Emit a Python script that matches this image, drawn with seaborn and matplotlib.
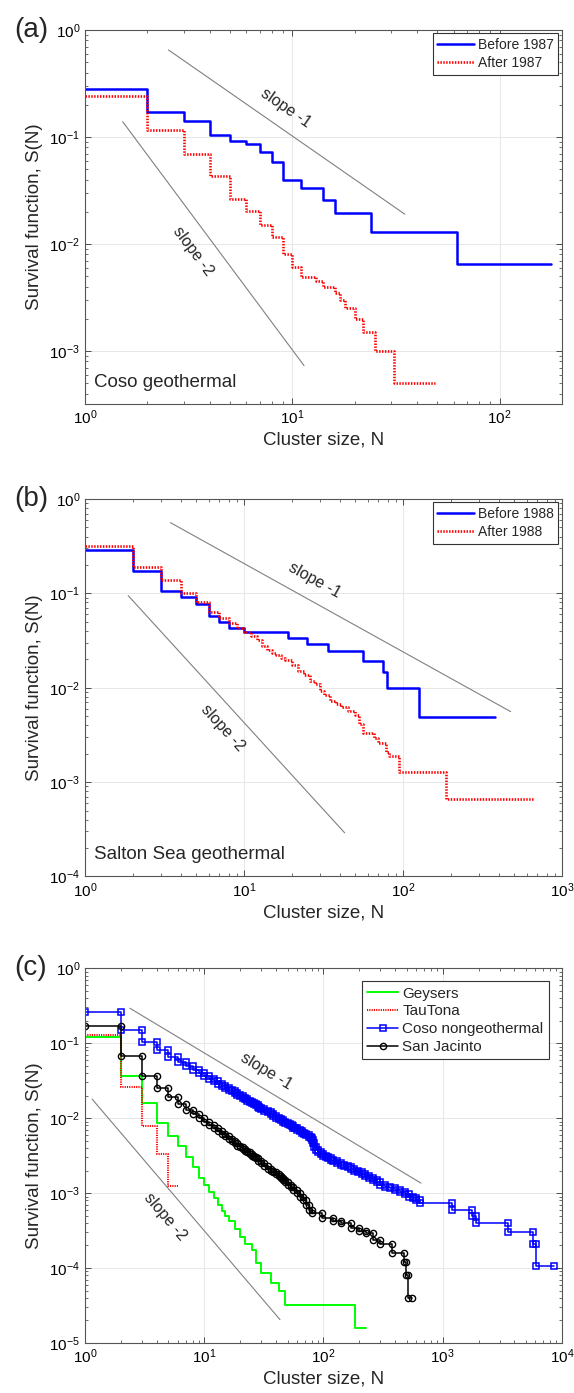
import numpy as np
import seaborn as sns
import matplotlib.pyplot as plt
from matplotlib.ticker import LogLocator, NullFormatter

sns.set_theme(style="ticks")
plt.rcParams["font.family"] = ["Liberation Sans", "DejaVu Sans"]
plt.rcParams["mathtext.fontset"] = "custom"
plt.rcParams["mathtext.rm"] = "Liberation Sans"
plt.rcParams["mathtext.it"] = "Liberation Sans:italic"
plt.rcParams["mathtext.bf"] = "Liberation Sans:bold"

# ---- panel (a): Coso geothermal ----
a_before_n = [1, 2, 3, 4, 5, 6, 7, 8, 9, 11, 14, 16, 24, 62, 178]
a_before_s = [0.279, 0.170, 0.142, 0.104, 0.092, 0.0855, 0.072, 0.058, 0.0397,
              0.0332, 0.0258, 0.0196, 0.0129, 0.00655, 0.00655]
a_after_n = [1, 2, 3, 4, 5, 6, 7, 8, 9, 10, 11, 13, 14, 16, 17, 18, 20, 22, 25, 31, 49]
a_after_s = [0.243, 0.116, 0.069, 0.0435, 0.0265, 0.0205, 0.0152, 0.0116, 0.0081,
             0.0061, 0.0049, 0.00454, 0.0040, 0.00346, 0.0030, 0.0025, 0.0020,
             0.0015, 0.0010, 0.0005, 0.0005]
a_slope1 = ([2.53, 34.9], [0.65, 0.019])
a_slope2 = ([1.52, 11.4], [0.139, 0.00073])

# ---- panel (b): Salton Sea geothermal ----
b_before_n = [1, 2, 3, 4, 5, 6, 7, 8, 10, 19, 25, 34, 56, 75, 79, 127, 377]
b_before_s = [0.288, 0.173, 0.106, 0.092, 0.0766, 0.0576, 0.0494, 0.0433, 0.0387,
              0.034, 0.029, 0.0245, 0.0194, 0.0148, 0.0099, 0.00494, 0.00494]
b_after_n = [1, 2, 3, 4, 5, 6, 7, 8, 9, 10, 11, 12, 13, 14, 15, 16, 17, 18,
             20, 22, 24, 26, 28, 30, 32, 35, 38, 41, 45, 50, 53, 56,
             66, 70, 78, 82, 95, 187, 670]
b_after_s = [0.318, 0.192, 0.139, 0.100, 0.080, 0.064, 0.0545, 0.049, 0.0427, 0.039,
             0.035, 0.032, 0.028, 0.0251, 0.0235, 0.022, 0.0205, 0.0197,
             0.0175, 0.0152, 0.0135, 0.0118, 0.0110, 0.0092, 0.0083,
             0.0072, 0.0067, 0.0062, 0.0057, 0.0051, 0.0041, 0.0033,
             0.0029, 0.0026, 0.0021, 0.0019, 0.00129, 0.00066, 0.00066]
b_slope1 = ([3.45, 476], [0.561, 0.00558])
b_slope2 = ([1.87, 43], [0.0946, 0.00029])

# ---- panel (c): other regions ----
c_gey_n = [1, 2, 3, 4, 5, 6, 7, 8, 9, 10, 11, 12, 13, 14, 15, 16, 18, 20, 22, 25,
           27, 30, 36, 42, 48, 184, 227]
c_gey_s = [0.120, 0.036, 0.0158, 0.0087, 0.0058, 0.0042, 0.0030, 0.0022, 0.0016,
           0.0013, 0.00105, 0.00085, 0.0007, 0.00058, 0.0005, 0.00042, 0.00033,
           0.00026, 0.00021, 0.000175, 0.000116, 0.000086, 0.000063, 0.000049,
           0.0000324, 0.0000158, 0.0000158]
c_tau_n = [1, 2, 3, 4, 5, 6]
c_tau_s = [0.129, 0.026, 0.0079, 0.0033, 0.00125, 0.00125]
c_coso_n = [1, 2, 3, 4, 5, 6, 7, 8, 9, 10, 11, 12, 13, 14, 15, 16, 17, 18, 19, 20,
            21, 22, 23, 24, 25, 26, 27, 28, 29, 30, 32, 34, 36, 38, 40, 42, 44, 46,
            48, 50, 52, 54, 56, 58, 60, 63, 66, 69, 72, 75, 78, 80, 82, 84, 86, 90,
            95, 100, 105, 110, 115, 120, 130, 140, 150, 160, 170, 180, 195, 210,
            225, 240, 260, 280, 300, 330, 360, 400, 440, 480, 520, 560, 600, 650,
            1200, 1750, 1900, 3500, 5700, 6100, 8650]
c_coso_s = [0.264, 0.150, 0.105, 0.0814, 0.066, 0.056, 0.049, 0.044, 0.040, 0.036,
            0.033, 0.031, 0.029, 0.027, 0.0255, 0.024, 0.0228, 0.0216, 0.0206, 0.0196,
            0.0188, 0.0180, 0.0172, 0.0165, 0.0159, 0.0153, 0.0148, 0.0143, 0.0138,
            0.0134, 0.0126, 0.0119, 0.0113, 0.0107, 0.0102, 0.0098, 0.0094, 0.0090,
            0.0087, 0.0083, 0.0080, 0.0078, 0.0075, 0.0073, 0.0070, 0.0067, 0.0064,
            0.0061, 0.0059, 0.0056, 0.0054, 0.0051, 0.0046, 0.0041, 0.0038, 0.0035,
            0.0033, 0.0031, 0.0030, 0.0029, 0.0028, 0.0027, 0.0025, 0.0024, 0.0023,
            0.0022, 0.0021, 0.0020, 0.0019, 0.0018, 0.0017, 0.0016, 0.0015, 0.0014,
            0.0013, 0.0012, 0.00116, 0.00110, 0.00105, 0.00098, 0.00090, 0.00085,
            0.00080, 0.00074, 0.0006, 0.0005, 0.0004, 0.0003, 0.00021, 0.000105,
            0.000105]
c_sj_n = [1, 2, 3, 4, 5, 6, 7, 8, 9, 10, 11, 12, 13, 14, 15, 16, 17, 18, 19, 20,
          21, 22, 23, 24, 25, 26, 27, 28, 30, 32, 34, 36, 38, 40, 42, 44, 46, 48,
          50, 53, 56, 60, 64, 68, 72, 76, 80, 97, 120, 139, 171, 200, 227, 262,
          300, 373, 478, 495, 510, 550]
c_sj_s = [0.170, 0.0677, 0.0366, 0.0251, 0.0190, 0.0155, 0.0130, 0.0114, 0.0100,
          0.0090, 0.0081, 0.0074, 0.0068, 0.0062, 0.0057, 0.0053, 0.0049, 0.0046,
          0.0043, 0.0041, 0.0039, 0.0037, 0.0035, 0.0033, 0.0031, 0.0030, 0.0029,
          0.0027, 0.0025, 0.0023, 0.0021, 0.0020, 0.0019, 0.0018, 0.0017, 0.0016,
          0.0015, 0.0014, 0.0013, 0.0012, 0.0011, 0.0010, 0.0009, 0.00082, 0.00070,
          0.00060, 0.00055, 0.00047, 0.00043, 0.0004, 0.00034, 0.00031, 0.00029,
          0.00024, 0.00021, 0.000158, 0.000119, 0.000081, 0.00004, 0.00004]
c_slope1 = ([2.38, 657], [0.293, 0.00136])
c_slope2 = ([1.15, 43.2], [0.0179, 0.0000205])

BLUE, RED, GREEN, GRAY = "#0000ff", "#ff0000", "#00ff00", "#808080"
DOTS = (0, (0.55, 0.55))


def stairs(n, s):
    # corner points of a survival staircase
    xs, ys = [], []
    for i in range(len(n) - 1):
        xs += [n[i], n[i + 1]]
        ys += [s[i], s[i]]
    return xs, ys


def style_axes(ax, xlim, ylim):
    ax.set_xscale("log")
    ax.set_yscale("log")
    ax.set_xlim(*xlim)
    ax.set_ylim(*ylim)
    for axis in (ax.xaxis, ax.yaxis):
        axis.set_major_locator(LogLocator(base=10, numticks=12))
        axis.set_minor_locator(LogLocator(base=10, subs=np.arange(2, 10), numticks=12))
        axis.set_minor_formatter(NullFormatter())
    ax.tick_params(which="both", direction="in", top=True, right=True,
                   colors="#333333", labelcolor="black", labelsize=11)
    ax.tick_params(which="major", length=4, width=0.6)
    ax.tick_params(which="minor", length=2, width=0.5)
    ax.grid(True, which="major", color="#e3e3e3", linewidth=0.6)
    for sp in ax.spines.values():
        sp.set_color("#555555")
        sp.set_linewidth(0.8)
    ax.set_xlabel("Cluster size, N", fontsize=13.5, labelpad=3)
    ax.set_ylabel("Survival function, S(N)", fontsize=13.5)
    ax.yaxis.set_label_coords(-0.088, 0.5)


def slope_line(ax, pts):
    sns.lineplot(x=pts[0], y=pts[1], ax=ax, color=GRAY, linewidth=0.8,
                 estimator=None, sort=False, legend=False)


def step(ax, n, s, **kw):
    xs, ys = stairs(n, s)
    sns.lineplot(x=xs, y=ys, ax=ax, estimator=None, sort=False, **kw)


def frame_legend(ax, pad, hl, size):
    leg = ax.legend(loc="upper right", fontsize=size, frameon=True, fancybox=False,
                    edgecolor="#333333", framealpha=1, handlelength=hl,
                    borderaxespad=pad, handletextpad=0.3, borderpad=0.35,
                    labelspacing=0.25)
    leg.get_frame().set_linewidth(0.8)


fig = plt.figure(figsize=(5.74, 13.93), dpi=100)
ax_a = fig.add_axes([0.148, 0.710, 0.831, 0.2685])
ax_b = fig.add_axes([0.148, 0.3708, 0.831, 0.271])
ax_c = fig.add_axes([0.148, 0.0359, 0.831, 0.269])

# (a)
style_axes(ax_a, (1, 200), (3.2e-4, 1))
step(ax_a, a_before_n, a_before_s, color=BLUE, linewidth=1.8, label="Before 1987")
step(ax_a, a_after_n, a_after_s, color=RED, linewidth=1.9, linestyle=DOTS,
     label="After 1987")
slope_line(ax_a, a_slope1)
slope_line(ax_a, a_slope2)
ax_a.text(9.3, 0.187, "slope -1", rotation=-34.6, fontsize=11.5,
          ha="center", va="center", rotation_mode="anchor")
ax_a.text(3.31, 0.00847, "slope -2", rotation=-53.2, fontsize=11.5,
          ha="center", va="center", rotation_mode="anchor")
ax_a.text(0.02, 0.057, "Coso geothermal", transform=ax_a.transAxes,
          fontsize=13.5, ha="left", va="center")
frame_legend(ax_a, 0.25, 2.6, 10)

# (b)
style_axes(ax_b, (1, 1000), (1e-4, 1))
step(ax_b, b_before_n, b_before_s, color=BLUE, linewidth=1.8, label="Before 1988")
step(ax_b, b_after_n, b_after_s, color=RED, linewidth=1.9, linestyle=DOTS,
     label="After 1988")
slope_line(ax_b, b_slope1)
slope_line(ax_b, b_slope2)
ax_b.text(27.8, 0.139, "slope -1", rotation=-29, fontsize=11.5,
          ha="center", va="center", rotation_mode="anchor")
ax_b.text(7.38, 0.00372, "slope -2", rotation=-47.6, fontsize=11.5,
          ha="center", va="center", rotation_mode="anchor")
ax_b.text(0.02, 0.057, "Salton Sea geothermal", transform=ax_b.transAxes,
          fontsize=13.5, ha="left", va="center")
frame_legend(ax_b, 0.25, 2.6, 10)

# (c)
style_axes(ax_c, (1, 1e4), (1e-5, 1))
step(ax_c, c_gey_n, c_gey_s, color=GREEN, linewidth=1.4, label="Geysers")
step(ax_c, c_tau_n, c_tau_s, color=RED, linewidth=1.5, linestyle=DOTS,
     label="TauTona")
step(ax_c, c_coso_n, c_coso_s, color=BLUE, linewidth=1.1, marker="s",
     markersize=3.8, markerfacecolor="none", markeredgecolor=BLUE,
     markeredgewidth=1.1, label="Coso nongeothermal")
step(ax_c, c_sj_n, c_sj_s, color="black", linewidth=1.1, marker="o",
     markersize=4.5, markerfacecolor="none", markeredgecolor="black",
     markeredgewidth=1.0, label="San Jacinto")
slope_line(ax_c, c_slope1)
slope_line(ax_c, c_slope2)
ax_c.text(33, 0.0427, "slope -1", rotation=-31, fontsize=11.5,
          ha="center", va="center", rotation_mode="anchor")
ax_c.text(4.66, 0.00049, "slope -2", rotation=-49.6, fontsize=11.5,
          ha="center", va="center", rotation_mode="anchor")
frame_legend(ax_c, 0.85, 2.0, 11)

for lab, ax in zip(["(a)", "(b)", "(c)"], [ax_a, ax_b, ax_c]):
    top = ax.get_position().y1
    fig.text(0.024, top, lab, fontsize=20, ha="left", va="center")

fig.savefig("out.png", dpi=100)
